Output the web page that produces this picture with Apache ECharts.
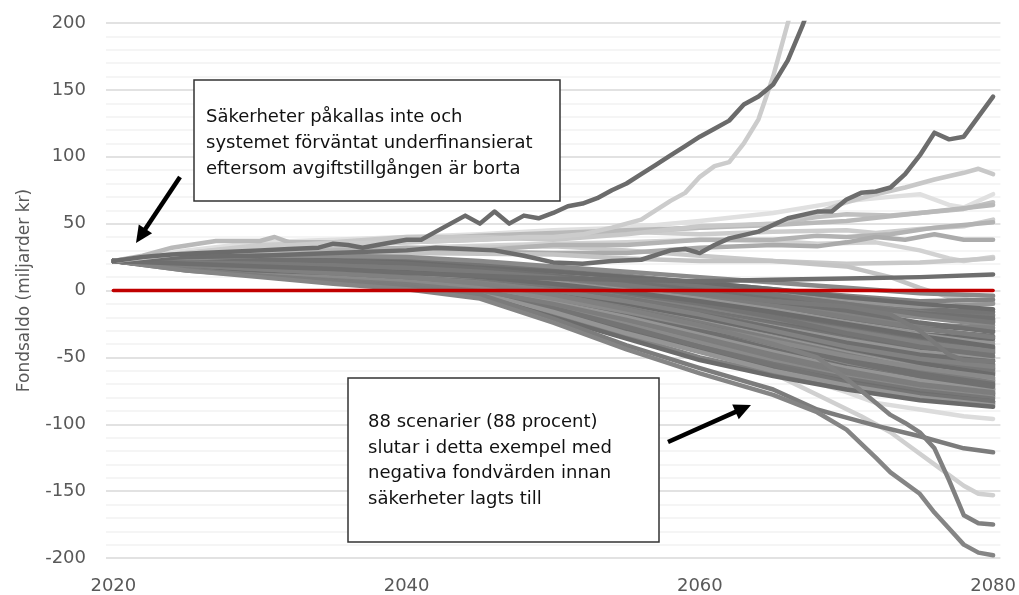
<!DOCTYPE html>
<html><head><meta charset="utf-8">
<script src="https://cdn.jsdelivr.net/npm/echarts@6/dist/echarts.min.js"></script>
<style>html,body{margin:0;padding:0;background:#fff}#c{width:1019px;height:595px}</style>
</head><body><div id="c"></div>
<script>
// ---- tick labels ----
const X_LABELS = [2020, 2040, 2060, 2080];
const Y_MIN = -200, Y_MAX = 200, Y_STEP = 50;

// ---- common years for the scenario bundle ----
const YEARS = [2020,2025,2030,2035,2040,2045,2050,2055,2060,2065,2070,2075,2080];

// ---- bundle scenarios (values at YEARS) ----
const m01 = [22,24,26,26,25,22,18,14,10,6,2,-2,-4];
const m02 = [22,21,23,22,21,17,14,10,6,1,-5,-10,-14];
const m03 = [22,20,18,17,15,13,10,7,3,-3,-10,-18,-24];
const m04 = [22,23,23,22,20,16,11,6,0,-8,-15,-24,-31];
const m05 = [22,19,17,15,13,10,6,0,-6,-14,-24,-33,-40];
const m06 = [22,21,20,18,16,12,6,-2,-10,-20,-32,-42,-49];
const m07 = [22,18,15,13,10,6,0,-8,-18,-28,-39,-48,-53];
const m08 = [22,20,17,14,12,8,2,-6,-16,-28,-40,-51,-59];
const m09 = [22,18,14,11,8,3,-6,-16,-27,-38,-49,-58,-65];
const m10 = [22,19,16,12,9,4,-4,-14,-26,-40,-53,-64,-72];
const m11 = [22,17,13,10,6,0,-10,-22,-35,-48,-60,-70,-76];
const m12 = [22,16,12,8,4,-2,-14,-28,-42,-55,-66,-75,-81];
const m13 = [22,17,13,9,5,-2,-16,-32,-46,-60,-71,-80,-86];
const m14 = [22,16,11,7,3,-4,-20,-36,-52,-64,-74,-82,-87];
const m15 = [22,21,19,16,14,11,8,4,-1,-6,-11,-15,-18];
const m16 = [22,20,19,17,15,12,9,5,0,-6,-12,-17,-21];
const m17 = [22,19,18,16,14,11,7,2,-4,-11,-18,-25,-28];
const m18 = [22,22,20,19,17,14,10,4,-3,-11,-20,-28,-35];
const m19 = [22,20,18,16,13,9,4,-3,-11,-20,-29,-37,-44];
const m20 = [22,19,17,14,11,7,1,-7,-16,-25,-35,-42,-47];
const m21 = [22,21,18,16,13,8,2,-6,-15,-25,-36,-46,-56];
const m22 = [22,18,16,13,10,5,-2,-11,-21,-31,-42,-52,-62];
const m23 = [22,20,17,14,10,5,-3,-12,-23,-35,-47,-58,-68];
const m24 = [22,18,15,12,8,2,-8,-19,-31,-43,-55,-65,-74];
const m25 = [22,17,14,11,7,1,-10,-22,-36,-50,-62,-72,-79];
const m26 = [22,19,15,11,6,-1,-13,-27,-41,-54,-66,-76,-84];
const m27 = [22,20,18,15,12,9,5,0,-5,-10,-15,-19,-22];
const m28 = [22,21,19,17,14,10,5,-1,-8,-16,-25,-34,-42];
const m29 = [22,19,16,14,11,6,0,-9,-19,-30,-40,-50,-58];
const m30 = [22,18,15,12,9,4,-4,-14,-25,-37,-48,-58,-66];
const m31 = [22,20,17,13,9,3,-6,-17,-30,-44,-57,-67,-75];
const m32 = [22,19,16,13,9,4,-3,-13,-24,-36,-48,-59,-69];
const m33 = [22,21,19,16,12,8,2,-5,-13,-22,-33,-44,-52];
const m34 = [22,20,18,15,12,8,3,-3,-9,-16,-24,-32,-38];
const m35 = [22,25,26,25,23,20,15,10,5,-1,-8,-14,-16];
const m36 = [22,18,14,10,6,0,-12,-26,-40,-52,-63,-72,-78];
const m37 = [22,15,11,7,3,-3,-18,-34,-50,-62,-73,-81,-85];
const m38 = [22,20,17,15,12,7,0,-10,-21,-33,-45,-55,-61];
const n01 = [22,21,20,18,16,13,10,6,2,-3,-8,-12,-10];
const n02 = [22,20,19,17,14,11,7,3,-2,-8,-14,-20,-26];
const n03 = [22,19,17,15,12,9,5,0,-6,-13,-21,-29,-34];
const n04 = [22,20,18,15,13,9,4,-2,-9,-17,-26,-35,-43];
const n05 = [22,18,16,13,10,6,0,-7,-15,-24,-33,-41,-46];
const n06 = [22,19,16,13,10,6,0,-8,-18,-30,-42,-51,-57];
const n07 = [22,20,17,15,11,6,-1,-10,-20,-31,-43,-54,-63];
const n08 = [22,17,14,11,8,3,-5,-15,-27,-40,-52,-62,-70];
const n09 = [22,18,15,12,8,2,-7,-18,-31,-45,-58,-68,-73];
const n10 = [22,19,15,11,7,1,-9,-21,-34,-47,-59,-69,-77];
const n11 = [22,17,13,9,5,-1,-12,-25,-39,-53,-65,-74,-80];
const n12 = [22,16,12,8,4,-3,-16,-31,-45,-57,-68,-77,-83];
const n13 = [22,21,19,17,15,12,8,3,-2,-7,-12,-16,-19];
const n14 = [22,22,21,19,17,14,11,7,2,-4,-10,-16,-23];
const n15 = [22,20,18,16,14,10,6,1,-5,-12,-19,-26,-30];
const n16 = [22,19,17,15,12,9,4,-2,-9,-17,-26,-33,-36];
const n17 = [22,21,19,16,13,9,3,-4,-12,-21,-30,-39,-45];
const n18 = [22,18,16,14,11,6,0,-8,-17,-27,-37,-46,-50];
const n19 = [22,20,18,15,12,7,0,-9,-19,-29,-40,-49,-55];
const n20 = [22,19,16,14,10,5,-2,-12,-23,-34,-45,-55,-60];
const n21 = [22,18,15,13,9,4,-4,-14,-25,-38,-50,-60,-67];
const n22 = [22,20,17,13,9,3,-5,-16,-28,-41,-53,-63,-71];
const n23 = [22,17,14,10,6,0,-9,-20,-33,-46,-58,-67,-74];
const n24 = [22,18,14,10,6,-1,-11,-24,-38,-51,-62,-71,-77];
const n25 = [22,24,25,26,24,20,16,11,6,1,-4,-8,-7];
const n26 = [22,16,12,9,5,-1,-13,-27,-42,-56,-69,-78,-83];
const lineD = [22,20,18,16,13,11,9,8,7,8,9,10,12];

// ---- individually traced scenarios ----
const lineA_years = [2020,2022,2024,2026,2028,2030,2032,2034,2035,2036,2037,2038,2040,2041,2042,2044,2045,2046,2047,2048,2049,2050,2051,2052,2053,2054,2055,2056,2057,2058,2059,2060,2061,2062,2063,2064,2065,2066,2067,2068];
const lineA_vals  = [22,25,27,28,29,30,31,32,35,34,32,34,38,38,44,56,50,59,50,56,54,58,63,65,69,75,80,87,94,101,108,115,121,127,139,145,154,172,198,228];
const lineB_years = [2020,2025,2030,2035,2040,2045,2048,2050,2052,2054,2056,2058,2059,2060,2061,2062,2063,2064,2065,2066,2067];
const lineB_vals  = [22,28,33,35,36,38,40,40,42,47,53,67,73,85,93,96,110,128,160,200,240];
const lineC_years = [2020,2025,2030,2035,2040,2042,2044,2046,2048,2050,2052,2054,2056,2058,2059,2060,2061,2062,2064,2066,2068,2069,2070,2071,2072,2073,2074,2075,2076,2077,2078,2079,2080];
const lineC_vals  = [22,25,26,28,30,32,31,30,26,21,20,22,23,30,31,28,34,39,44,54,59,59,68,73,74,77,87,101,118,113,115,130,145];
const lineE_years = [2020,2025,2030,2035,2040,2045,2050,2055,2060,2065,2068,2070,2072,2073,2075,2076,2077,2078,2079,2080];
const lineE_vals  = [22,15,10,5,1,-6,-24,-44,-62,-78,-91,-104,-125,-136,-152,-166,-178,-190,-196,-198];
const lineF_years = [2020,2025,2030,2035,2040,2045,2050,2055,2060,2065,2068,2070,2072,2073,2074,2075,2076,2077,2078,2079,2080];
const lineF_vals  = [22,19,16,13,10,5,-3,-14,-26,-40,-50,-66,-84,-93,-99,-106,-118,-142,-168,-174,-175];
const lineG_years = [2020,2030,2040,2045,2050,2055,2060,2065,2070,2073,2075,2077,2078,2080];
const lineG_vals  = [22,20,17,14,10,4,-2,-8,-12,-18,-30,-48,-52,-53];
const lineH_years = [2020,2025,2030,2035,2040,2045,2050,2055,2060,2065,2068,2070,2072,2075,2078,2080];
const lineH_vals  = [22,16,11,7,3,-3,-21,-41,-58,-74,-89,-95,-101,-109,-118,-121];
const lineI_years = [2020,2025,2030,2035,2040,2045,2050,2055,2060,2065,2068,2071,2073,2074,2076,2078,2079,2080];
const lineI_vals  = [22,18,14,10,6,0,-12,-28,-45,-62,-78,-94,-106,-114,-130,-146,-152,-153];
const lineJ_years = [2020,2025,2030,2035,2040,2045,2050,2055,2060,2065,2070,2072,2075,2078,2080];
const lineJ_vals  = [22,19,15,12,8,2,-8,-22,-40,-59,-76,-84,-89,-94,-96];

const u01_years = [2020,2025,2030,2035,2040,2045,2050,2055,2060,2065,2070,2073,2075,2077,2078,2080];
const u01_vals  = [22,30,36,38,40,42,45,47,52,58,67,70,72,64,62,72];
const u02_years = [2020,2025,2030,2035,2040,2045,2050,2055,2060,2065,2068,2070,2072,2074,2076,2078,2079,2080];
const u02_vals  = [22,27,32,36,40,40,38,42,48,50,58,66,72,77,83,88,91,87];
const u03_years = [2020,2030,2040,2050,2055,2060,2065,2068,2070,2073,2075,2078,2080];
const u03_vals  = [22,30,36,40,44,47,50,55,57,56,58,61,66];
const u04_years = [2020,2030,2040,2050,2055,2060,2065,2070,2072,2075,2078,2080];
const u04_vals  = [22,34,38,42,44,42,44,45,43,46,48,53];
const u05_years = [2020,2030,2040,2045,2050,2055,2060,2065,2068,2070,2073,2076,2080];
const u05_vals  = [22,28,32,30,34,34,38,38,41,40,42,47,51];
const u06_years = [2020,2030,2040,2050,2055,2060,2065,2068,2070,2072,2074,2076,2077,2078,2080];
const u06_vals  = [22,25,30,28,28,32,34,33,36,40,38,42,40,38,38];
const u07_years = [2020,2030,2040,2050,2055,2060,2065,2068,2072,2075,2077,2078,2080];
const u07_vals  = [22,29,32,35,36,38,37,35,36,30,24,22,25];
const u08_years = [2020,2030,2040,2050,2055,2060,2065,2070,2073,2075,2077,2080];
const u08_vals  = [22,26,28,27,24,22,22,18,10,2,-5,-9];
const u10_years = [2020,2022,2024,2026,2030,2032,2036,2040,2045,2050,2055,2060,2065,2070,2075,2080];
const u10_vals  = [22,22,22,19,19,25,28,30,32,33,30,26,22,20,21,24];
const u11_years = [2020,2022,2024,2027,2030,2031,2032,2036,2040,2045,2050,2055,2060,2065,2070,2075,2080];
const u11_vals  = [22,26,32,37,37,40,36,36,38,41,43,45,47,49,52,58,64];

// ---- zero reference line ----
const ZERO_YEARS = [2020, 2080];
const ZERO_VALS = [0, 0];

const MASS = [m15,n13,m27,n25,m35,n01,m02,n14,m16,n02,m03,n15,m17,n03,m34,n16,m19,n04,m20,n05,m33,n17,m21,n18,m29,n19,m38,n20,m22,n21,m30,n22,m23,n07,m32,n08,m24,n09,m31,n10,m25,n23,m36,n24,m26,n11,m12,n12,m37,n26,m13,m14,m11,m10,m09,m08,m07,n06,m06,m05,m28,m18,m04,m01];
const MASS_COLORS = ['#8a8a8a','#777777','#6e6e6e','#828282','#747474','#959595','#6b6b6b','#7d7d7d','#707070'];

function pairs(xs, ys){ return xs.map((x,i)=>[x, ys[i]]); }
function mk(xs, ys, color, width, z){
  return {type:'line', data:pairs(xs, ys), symbol:'none', showSymbol:false, silent:true,
    animation:false, z:z||2, clip:true,
    lineStyle:{width:width||4.5, color:color, cap:'round', join:'round'}, itemStyle:{color:color}};
}

const series = [];
series.push(mk(u01_years,u01_vals,'#e0e0e0'));
series.push(mk(u07_years,u07_vals,'#d2d2d2'));
series.push(mk(u10_years,u10_vals,'#c9c9c9'));
series.push(mk(u04_years,u04_vals,'#cdcdcd'));
series.push(mk(u03_years,u03_vals,'#c0c0c0'));
series.push(mk(u11_years,u11_vals,'#b9b9b9'));
series.push(mk(u05_years,u05_vals,'#b3b3b3'));
series.push(mk(u06_years,u06_vals,'#ababab'));
series.push(mk(u08_years,u08_vals,'#c4c4c4'));
series.push(mk(u02_years,u02_vals,'#c8c8c8'));
series.push(mk(lineJ_years,lineJ_vals,'#dcdcdc'));
series.push(mk(lineI_years,lineI_vals,'#d0d0d0'));
MASS.forEach((arr,i)=>series.push(mk(YEARS, arr, MASS_COLORS[i % MASS_COLORS.length], 4.5, 3)));
series.push(mk(lineG_years,lineG_vals,'#7a7a7a',4.5,4));
series.push(mk(lineH_years,lineH_vals,'#7c7c7c',4.5,4));
series.push(mk(lineF_years,lineF_vals,'#808080',4.5,4));
series.push(mk(lineE_years,lineE_vals,'#858585',4.5,4));
series.push(mk(YEARS,lineD,'#6e6e6e',4.5,5));
series.push(mk(lineC_years,lineC_vals,'#6d6d6d',4.5,5));
series.push(mk(lineB_years,lineB_vals,'#cccccc',4.5,5));
series.push(mk(lineA_years,lineA_vals,'#6b6b6b',4.5,5));
series.push(mk(ZERO_YEARS,ZERO_VALS,'#c00000',3.5,10));

function arrow(tail, tip, headLen, halfW){
  const dx = tip[0]-tail[0], dy = tip[1]-tail[1];
  const L = Math.hypot(dx,dy), ux = dx/L, uy = dy/L;
  const bx = tip[0]-headLen*ux, by = tip[1]-headLen*uy;
  const nx = -uy, ny = ux;
  return [
    {type:'line', z:100, shape:{x1:tail[0],y1:tail[1],x2:bx+ux*2,y2:by+uy*2}, style:{stroke:'#000',lineWidth:4.5}},
    {type:'polygon', z:100, shape:{points:[[tip[0],tip[1]],[bx+halfW*nx,by+halfW*ny],[bx-halfW*nx,by-halfW*ny]]}, style:{fill:'#000'}}
  ];
}

const FONT = 'DejaVu Sans';
const chart = echarts.init(document.getElementById('c'), null, {renderer:'canvas'});
chart.setOption({
  backgroundColor:'#ffffff',
  animation:false,
  grid:{left:106, right:17, top:23, bottom:36, containLabel:false},
  xAxis:{
    type:'value', min:2019.5, max:2080.5,
    axisLine:{show:false, onZero:false}, axisTick:{show:false}, splitLine:{show:false},
    axisLabel:{customValues:X_LABELS, color:'#595959', fontSize:18, fontFamily:FONT, margin:19,
      formatter:(v)=>String(Math.round(v))}
  },
  yAxis:{
    type:'value', min:Y_MIN, max:Y_MAX, interval:Y_STEP,
    name:'Fondsaldo (miljarder kr)', nameLocation:'middle', nameGap:73,
    nameTextStyle:{color:'#595959', fontSize:17, fontFamily:FONT},
    axisLine:{show:false}, axisTick:{show:false},
    axisLabel:{color:'#595959', fontSize:18, fontFamily:FONT, margin:20},
    splitLine:{show:true, lineStyle:{color:'#d9d9d9', width:1.5}},
    minorTick:{show:false, splitNumber:5},
    minorSplitLine:{show:true, lineStyle:{color:'#f2f2f2', width:1.5}}
  },
  series: series,
  graphic: [
    {type:'rect', z:100, shape:{x:194, y:80, width:366, height:121}, style:{fill:'#fff', stroke:'#333', lineWidth:1.5}},
    {type:'text', z:101, x:206, y:104, style:{text:'Säkerheter påkallas inte och\nsystemet förväntat underfinansierat\neftersom avgiftstillgången är borta',
      fill:'#111', font:'18px "DejaVu Sans"', lineHeight:26, verticalAlign:'top', align:'left'}},
    {type:'rect', z:100, shape:{x:348, y:378, width:311, height:164}, style:{fill:'#fff', stroke:'#333', lineWidth:1.5}},
    {type:'text', z:101, x:368, y:410, style:{text:'88 scenarier (88 procent)\nslutar i detta exempel med\nnegativa fondvärden innan\nsäkerheter lagts till',
      fill:'#111', font:'18px "DejaVu Sans"', lineHeight:25.5, verticalAlign:'top', align:'left'}},
    ...arrow([180,177],[136,243],17,8),
    ...arrow([668,442],[751,405],17,8)
  ]
});
</script></body></html>
